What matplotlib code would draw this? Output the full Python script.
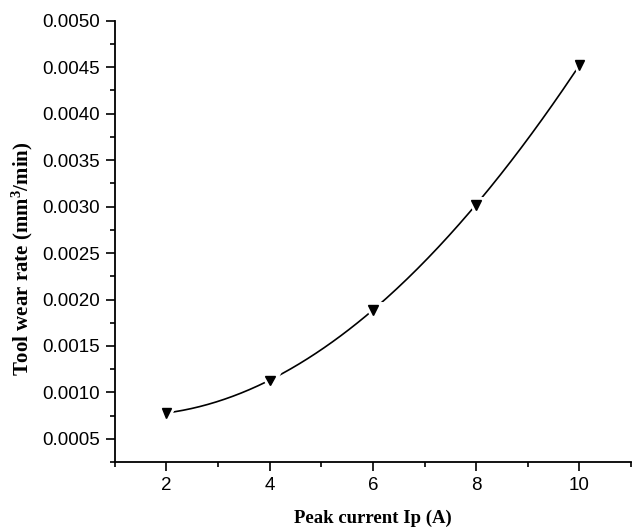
import matplotlib
matplotlib.use("Agg")
import matplotlib.pyplot as plt
import numpy as np
from matplotlib.ticker import MultipleLocator, FormatStrFormatter
import matplotlib.patheffects as pe

# data
peak_current = [2, 4, 6, 8, 10]
wear_rate = [0.00078, 0.00113, 0.00189, 0.00302, 0.00452]

plt.rcParams["font.family"] = "Liberation Sans"
plt.rcParams["mathtext.fontset"] = "custom"
plt.rcParams["mathtext.rm"] = "Liberation Serif:bold"
plt.rcParams["mathtext.default"] = "rm"

fig = plt.figure(figsize=(6.38, 5.30), dpi=100)
ax = fig.add_axes([0.180, 0.128, 0.809, 0.833])

# smooth curve through the points
coef = np.polyfit(peak_current, wear_rate, 3)
xs = np.linspace(peak_current[0], peak_current[-1], 200)
ax.plot(xs, np.polyval(coef, xs), color="black", lw=1.2)
ax.plot(peak_current, wear_rate, linestyle="none", marker="v", ms=7, color="black",
        path_effects=[pe.withStroke(linewidth=5, foreground="white")])

ax.set_xlim(1, 11)
ax.set_ylim(0.00025, 0.0050)
ax.xaxis.set_major_locator(MultipleLocator(2))
ax.xaxis.set_minor_locator(MultipleLocator(1))
ax.yaxis.set_major_locator(MultipleLocator(0.0005))
ax.yaxis.set_minor_locator(MultipleLocator(0.00025))
ax.yaxis.set_major_formatter(FormatStrFormatter("%.4f"))

for s in ["top", "right"]:
    ax.spines[s].set_visible(False)
for s in ["left", "bottom"]:
    ax.spines[s].set_linewidth(1.3)
ax.tick_params(which="major", direction="out", length=6.5, width=1.2, labelsize=13.5, pad=4)
ax.tick_params(which="minor", direction="out", length=3.5, width=1.2)

ax.set_xlabel("Peak current Ip (A)", family="Liberation Serif", weight="bold", fontsize=13.5, labelpad=11.5)
ax.set_ylabel("Tool wear rate (mm$^3$/min)", family="Liberation Serif", weight="bold", fontsize=15)
ax.yaxis.set_label_coords(-0.155, 0.46)

fig.savefig("out.png", dpi=100)
